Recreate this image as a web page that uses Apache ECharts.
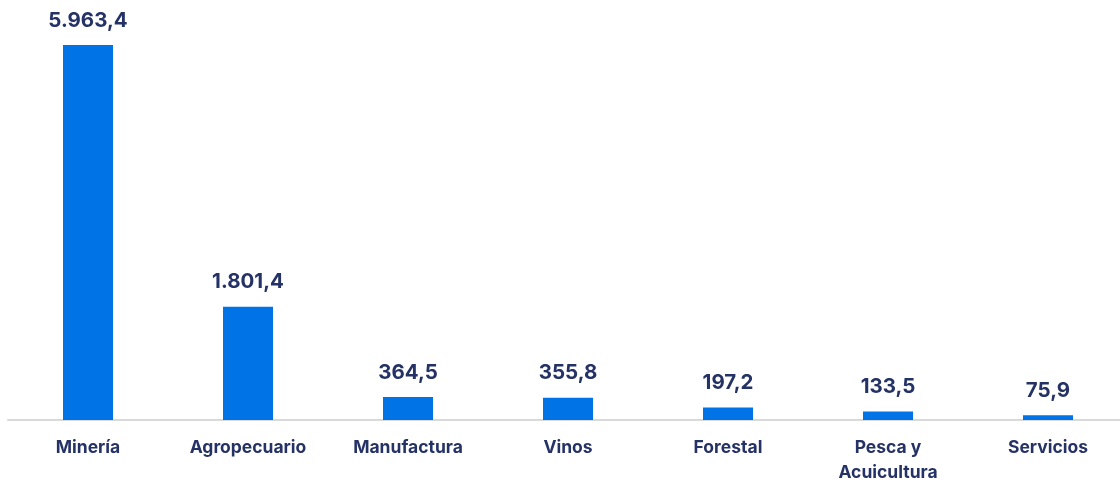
<!DOCTYPE html>
<html><head><meta charset="utf-8">
<script src="https://cdn.jsdelivr.net/npm/echarts@6/dist/echarts.min.js"></script>
<style>html,body{margin:0;padding:0;background:#fff}#c{width:1120px;height:485px}</style>
</head><body><div id="c"></div>
<script>
const categories = ['Minería','Agropecuario','Manufactura','Vinos','Forestal','Pesca y\nAcuicultura','Servicios'];
const values = [5963.4, 1801.4, 364.5, 355.8, 197.2, 133.5, 75.9];
function fmt(v){
  const parts = v.toFixed(1).split('.');
  const intp = parts[0].replace(/\B(?=(\d{3})+(?!\d))/g, '.');
  return intp + ',' + parts[1];
}
const chart = echarts.init(document.getElementById('c'));
chart.setOption({
  animation:false,
  grid:{left:8,right:-8,top:42.7,bottom:65,outerBoundsMode:'none',containLabel:false},
  xAxis:{type:'category',data:categories,
    axisLine:{lineStyle:{color:'#d9d9d9',width:2}},
    axisTick:{show:false},
    axisLabel:{color:'#253266',fontFamily:'Inter',fontWeight:'bold',fontSize:17.5,margin:15,lineHeight:25,interval:0}},
  yAxis:{type:'value',min:0,max:6000,show:false,splitLine:{show:false}},
  series:[{type:'bar',data:values,barWidth:50,
    itemStyle:{color:'#0073E6'},
    label:{show:true,position:'top',distance:14,color:'#253266',fontFamily:'Inter',fontWeight:'bold',fontSize:20.5,
      formatter:p=>fmt(p.value)}}]
});
</script></body></html>
